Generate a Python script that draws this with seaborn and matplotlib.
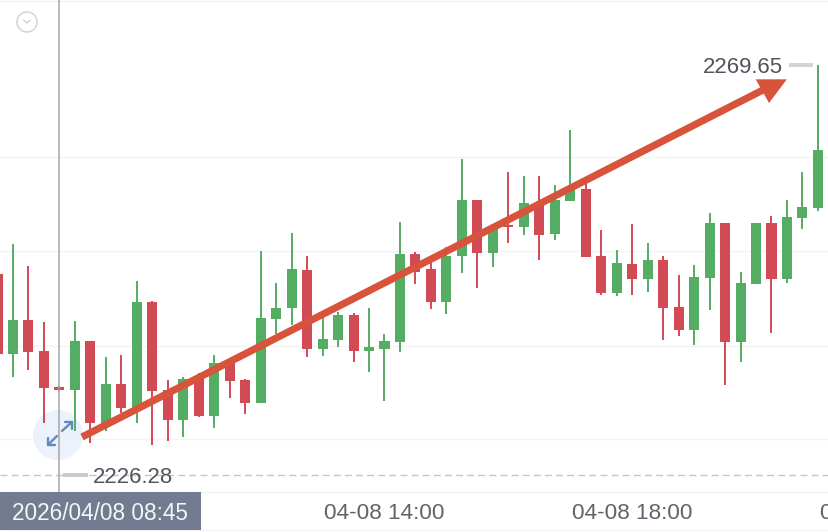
import matplotlib
matplotlib.use("Agg")
import matplotlib.pyplot as plt
import pandas as pd
import seaborn as sns
from matplotlib.patches import Circle

# === Candle data (15 min bars) ===
opens = [2247.55, 2239.08, 2242.68, 2239.40, 2235.59, 2235.28, 2240.46, 2231.79, 2235.91, 2233.48,
         2244.58, 2235.28, 2232.10, 2236.65, 2232.53, 2238.24, 2236.33, 2233.90, 2242.79, 2243.95,
         2247.97, 2239.61, 2240.56, 2243.21, 2239.40, 2239.61, 2240.35, 2249.66, 2248.07, 2244.58,
         2249.45, 2255.37, 2249.77, 2252.73, 2252.52, 2255.06, 2251.78, 2255.27, 2256.54, 2249.45,
         2245.54, 2248.60, 2247.02, 2249.03, 2244.06, 2241.62, 2247.12, 2252.94, 2240.35, 2246.49,
         2252.94, 2247.02, 2253.47, 2254.53, 2260.66]
highs = [2247.55, 2250.72, 2248.39, 2242.47, 2235.70, 2242.57, 2240.46, 2238.77, 2238.98, 2246.81,
         2244.69, 2236.33, 2236.65, 2237.07, 2238.98, 2238.45, 2236.44, 2249.98, 2246.59, 2251.88,
         2249.45, 2242.89, 2243.53, 2243.42, 2243.95, 2241.20, 2253.05, 2249.87, 2248.71, 2250.40,
         2259.71, 2255.37, 2252.73, 2258.34, 2257.91, 2257.91, 2256.96, 2262.78, 2257.81, 2252.20,
         2250.08, 2252.84, 2250.83, 2249.45, 2247.44, 2248.50, 2254.00, 2252.94, 2247.76, 2252.94,
         2253.68, 2255.37, 2258.34, 2269.65, 2260.66]
lows = [2239.08, 2236.65, 2237.39, 2231.79, 2235.17, 2230.94, 2229.67, 2230.94, 2232.84, 2231.79,
        2229.46, 2229.88, 2230.30, 2232.42, 2231.26, 2234.43, 2232.74, 2233.90, 2241.20, 2242.15,
        2238.77, 2238.87, 2239.82, 2238.24, 2237.18, 2234.11, 2239.30, 2246.49, 2243.84, 2243.32,
        2247.65, 2246.07, 2248.29, 2250.83, 2251.67, 2249.03, 2251.14, 2255.27, 2249.34, 2245.32,
        2245.22, 2245.32, 2245.64, 2240.56, 2240.99, 2240.04, 2243.74, 2235.80, 2238.24, 2246.49,
        2241.31, 2246.59, 2252.31, 2254.21, 2259.50]
closes = [2239.08, 2242.68, 2239.30, 2235.49, 2235.28, 2240.46, 2231.79, 2235.91, 2233.37, 2244.58,
          2235.17, 2232.10, 2236.44, 2232.53, 2238.13, 2236.23, 2233.90, 2242.89, 2243.95, 2248.07,
          2239.61, 2240.67, 2243.21, 2239.40, 2239.82, 2240.46, 2249.66, 2247.76, 2244.58, 2249.45,
          2255.37, 2249.77, 2252.62, 2252.52, 2255.06, 2251.67, 2255.37, 2256.43, 2249.34, 2245.54,
          2248.71, 2247.02, 2249.03, 2243.95, 2241.62, 2247.23, 2252.94, 2240.35, 2246.59, 2252.94,
          2247.02, 2253.58, 2254.63, 2260.66, 2259.50]

grid_prices = [2259.92, 2249.98, 2239.92, 2230.09]
max_price = 2269.65
min_price = 2226.28
tick_bars = [25, 41, 57]
tick_labels = ["04-08 14:00", "04-08 18:00", "04-08 22:00"]
cursor_bar = 4
cursor_label = "2026/04/08 08:45"

GREEN = "#55ad63"
RED = "#d14a54"
ARROW = "#d8533c"
BLUE = "#6289bf"
FONT = "Liberation Sans"

df = pd.DataFrame({"bar": range(len(opens)), "open": opens, "high": highs, "low": lows, "close": closes})
df["bottom"] = df[["open", "close"]].min(axis=1)
df["body"] = (df["close"] - df["open"]).abs()
df["up"] = df["close"] >= df["open"]

sns.set_style("white")
fig = plt.figure(figsize=(8.29, 5.32), dpi=100)
ax = fig.add_axes([0, 0, 1, 1])

# grid lines behind the candles
for p in grid_prices:
    ax.axhline(p, color="#f3f4f6", lw=1, zorder=0)
ax.axhline(min_price, color="#c4c6c9", lw=1, ls=(0, (5, 3)), zorder=1)
ax.axhline(2224.47, color="#f0f1f3", lw=1, zorder=1)
ax.axhline(2220.46, color="#f3f4f6", lw=1, zorder=1)
ax.axhline(2276.40, color="#f2f2f2", lw=1, zorder=1)

# expand button under the candles (display coords, y from bottom)
ax.add_patch(Circle((58, 97), 25, color="#e9f0fb", alpha=0.85, lw=0, zorder=1.5, transform=None))

# === Candles ===
for is_up, color in [(True, GREEN), (False, RED)]:
    sub = df[df["up"] == is_up]
    ax.vlines(sub["bar"], sub["low"], sub["high"], color=color, lw=1.4, zorder=2)
    sns.barplot(data=sub, x="bar", y="body", bottom=sub["bottom"], native_scale=True,
                color=color, saturation=1, width=0.65, errorbar=None, ax=ax, zorder=3, linewidth=0)

ax.set_xlim(0.162, 53.715)
ax.set_ylim(2220.25, 2276.53)
ax.set_xlabel("")
ax.set_ylabel("")
ax.set_xticks([])
ax.set_yticks([])
sns.despine(ax=ax, left=True, bottom=True)

# crosshair
ax.vlines(cursor_bar, 2224.47, 2276.53, color="#a3a6ac", lw=1.1, zorder=4)

# max / min labels
ax.plot([51.15, 52.7], [max_price, max_price], color="#d2d3d5", lw=2.8, zorder=4, solid_capstyle="butt")
ax.text(50.74, max_price, f"{max_price:.2f}", ha="right", va="center_baseline", fontsize=15.9,
        color="#50545b", family=FONT)
ax.plot([4.23, 5.84], [min_price, min_price], color="#c8c9cb", lw=2.8, zorder=4, solid_capstyle="butt")
ax.text(6.17, min_price, f"{min_price:.2f}", ha="left", va="center_baseline", fontsize=15.9,
        color="#50545b", family=FONT)

# trend arrow
ax.plot([5.46, 49.58], [2230.30, 2267.12], color=ARROW, lw=5.2, solid_capstyle="butt", zorder=6)
ax.fill([48.98, 50.99, 49.84], [2268.14, 2268.14, 2265.63], color=ARROW, lw=0, zorder=6)

# small blue arrows of the button
ax.plot([4.17, 4.81], [2230.94, 2231.89], color=BLUE, lw=1.7, zorder=5)
ax.plot([4.36, 4.81, 4.81], [2231.89, 2231.89, 2231.15], color=BLUE, lw=1.7, zorder=5)
ax.plot([3.84, 3.26], [2230.41, 2229.46], color=BLUE, lw=1.7, zorder=5)
ax.plot([3.26, 3.26, 3.71], [2230.20, 2229.46, 2229.46], color=BLUE, lw=1.7, zorder=5)

# collapse button top left
ax.add_patch(Circle((27, 510), 10, fill=False, ec="#d3d4d6", lw=1.1, transform=None, zorder=5))
ax.plot([1.69, 1.90, 2.11], [2274.4, 2274.1, 2274.4], color="#d0d1d3", lw=1, zorder=5)

# time axis
for b, lab in zip(tick_bars, tick_labels):
    ax.text(b, 2222.25, lab, ha="center", va="center", fontsize=16.2, color="#5f636b", family=FONT,
            zorder=5, clip_on=True)

ax.fill_between([0.162, 13.14], 2220.46, 2224.47, color="#737b90", lw=0, zorder=7)
ax.text(6.62, 2222.25, cursor_label, ha="center", va="center", fontsize=16.3, color="#f4f5f7", family=FONT, zorder=8)

fig.savefig("out.png", dpi=100)
